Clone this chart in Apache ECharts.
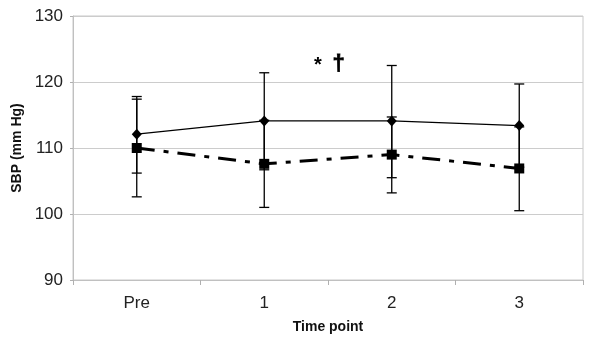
<!DOCTYPE html>
<html>
<head>
<meta charset="utf-8">
<script src="https://cdn.jsdelivr.net/npm/echarts@6/dist/echarts.min.js"></script>
<style>
  html, body { margin: 0; padding: 0; background: #fff; }
  #chart { width: 600px; height: 351px; }
</style>
</head>
<body>
<div id="chart"></div>
<script>
var categories = ['Pre', '1', '2', '3'];

// solid line, diamonds
var meanA = [112.1, 114.1, 114.1, 113.4];
var lowA  = [106.2, 106.7, 105.5, 107.1];
var highA = [117.8, 121.4, 122.5, 119.7];

// dash-dot line, squares
var meanB = [110.0, 107.6, 109.0, 106.9];
var lowB  = [102.6, 101.0, 103.2, 100.5];
var highB = [117.4, 114.2, 114.7, 113.2];

function errorData(low, high) {
    var out = [];
    for (var i = 0; i < low.length; i++)
        out.push([i, low[i], high[i]]);
    return out;
}

function renderError(params, api) {
    var x = api.value(0);
    var lo = api.coord([x, api.value(1)]);
    var hi = api.coord([x, api.value(2)]);
    var half = 5;
    var style = { stroke: '#000', lineWidth: 1.3 };
    return {
        type: 'group',
        children: [
            { type: 'line', shape: { x1: hi[0], y1: hi[1], x2: lo[0], y2: lo[1] }, style: style },
            { type: 'line', shape: { x1: hi[0] - half, y1: hi[1], x2: hi[0] + half, y2: hi[1] }, style: style },
            { type: 'line', shape: { x1: lo[0] - half, y1: lo[1], x2: lo[0] + half, y2: lo[1] }, style: style }
        ]
    };
}

var chart = echarts.init(document.getElementById('chart'));
var font = 'Liberation Sans, Arial, sans-serif';

chart.setOption({
    animation: false,
    textStyle: { fontFamily: font },
    grid: {
        left: 73, right: 17, top: 16, bottom: 71,
        show: true, borderColor: '#c8c8c8', borderWidth: 1
    },
    xAxis: {
        type: 'category',
        data: categories,
        boundaryGap: true,
        name: 'Time point',
        nameLocation: 'middle',
        nameGap: 40,
        nameTextStyle: { fontFamily: font, fontWeight: 'bold', fontSize: 14, color: '#111' },
        axisLine: { lineStyle: { color: '#c0c0c0' } },
        axisTick: { show: true, length: 5, lineStyle: { color: '#b0b0b0' } },
        axisLabel: { fontFamily: font, fontSize: 17, color: '#222', margin: 15 },
        splitLine: { show: false }
    },
    yAxis: {
        type: 'value',
        min: 90, max: 130, interval: 10,
        name: 'SBP (mm Hg)',
        nameLocation: 'middle',
        nameGap: 49,
        nameTextStyle: { fontFamily: font, fontWeight: 'bold', fontSize: 14, color: '#111' },
        axisLine: { show: true, lineStyle: { color: '#c0c0c0' } },
        axisTick: { show: true, length: 3, lineStyle: { color: '#b0b0b0' } },
        axisLabel: { fontFamily: font, fontSize: 17, color: '#222', margin: 10 },
        splitLine: { show: true, lineStyle: { color: '#cccccc', width: 1 } }
    },
    graphic: [
        {
            type: 'text', left: 314, top: 55,
            style: { text: '*', fontFamily: font, fontWeight: 'bold', fontSize: 20, fill: '#000' }
        },
        {
            type: 'text', left: 332, top: 53,
            style: { text: '†', fontFamily: font, fontWeight: 'bold', fontSize: 22, fill: '#000', stroke: '#000', lineWidth: 0.8 }
        }
    ],
    series: [
        {
            type: 'custom', renderItem: renderError, data: errorData(lowB, highB),
            encode: { x: 0, y: [1, 2] }, z: 1
        },
        {
            type: 'custom', renderItem: renderError, data: errorData(lowA, highA),
            encode: { x: 0, y: [1, 2] }, z: 1
        },
        {
            type: 'line', data: meanB, symbol: 'rect', symbolSize: 10,
            itemStyle: { color: '#000' },
            lineStyle: { color: '#000', width: 3, type: [18, 9, 5, 9] },
            z: 3
        },
        {
            type: 'line', data: meanA, symbol: 'diamond', symbolSize: [10, 11],
            itemStyle: { color: '#000' },
            lineStyle: { color: '#000', width: 1.2, type: 'solid' },
            z: 4
        }
    ]
});
</script>
</body>
</html>
